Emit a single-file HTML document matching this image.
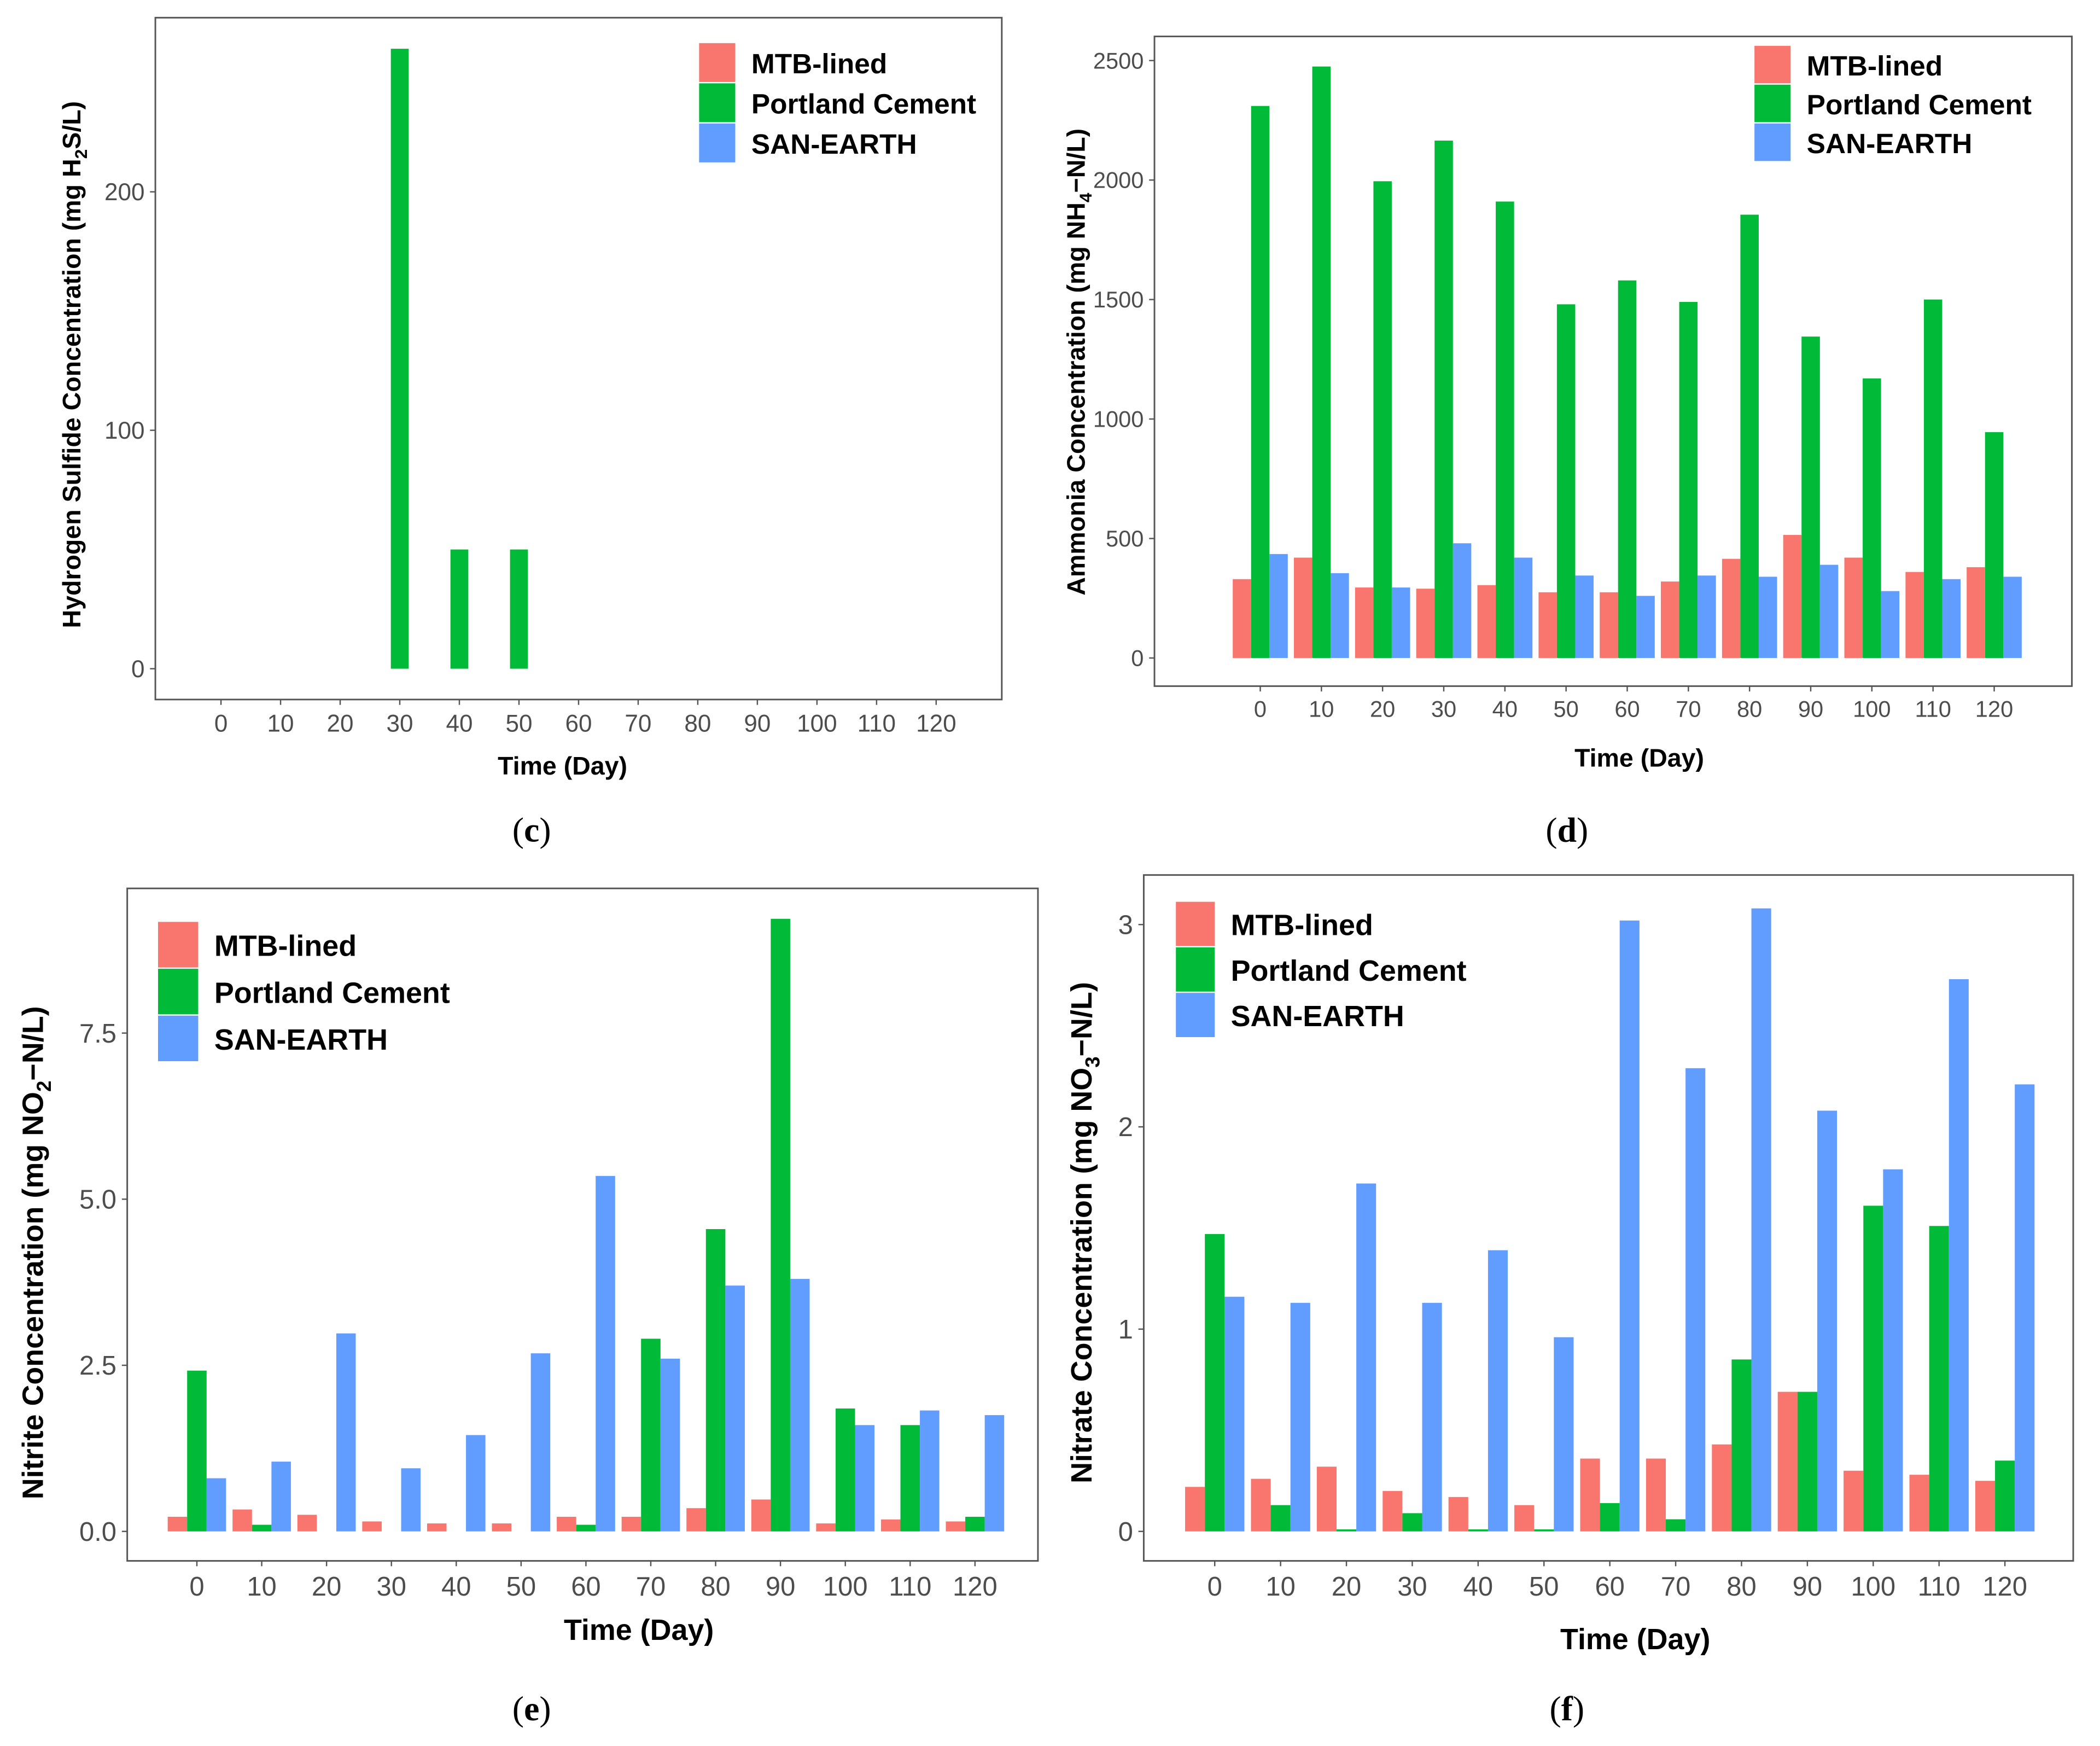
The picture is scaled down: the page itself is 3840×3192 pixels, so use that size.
<!DOCTYPE html>
<html><head><meta charset="utf-8">
<style>
html,body{margin:0;padding:0;background:#fff;overflow:hidden;}
svg{display:block;}
text{font-family:"Liberation Sans",sans-serif;}
.tick{fill:#4d4d4d;}
.ttl{font-weight:bold;fill:#000;}
.cap{font-family:"Liberation Serif",serif;fill:#000;font-size:26px;}
</style></head>
<body>
<svg id="fig" width="3840" height="3192" viewBox="0 0 1568 1303" xmlns="http://www.w3.org/2000/svg"></svg>
<script>
const days = [0,10,20,30,40,50,60,70,80,90,100,110,120];
const seriesNames = ["MTB-lined","Portland Cement","SAN-EARTH"];
const colors = ["#F8766D","#00BA38","#619CFF"];

const cMTB = [0,0,0,0,0,0,0,0,0,0,0,0,0];
const cPC  = [0,0,0,260,50,50,0,0,0,0,0,0,0];
const cSAN = [0,0,0,0,0,0,0,0,0,0,0,0,0];
const cTicks = [0,100,200];

const dMTB = [330,420,295,290,305,275,275,320,415,515,420,360,380];
const dPC  = [2310,2475,1995,2165,1910,1480,1580,1490,1855,1345,1170,1500,945];
const dSAN = [435,355,295,480,420,345,260,345,340,390,280,330,340];
const dTicks = [0,500,1000,1500,2000,2500];

const eMTB = [0.22,0.33,0.25,0.15,0.12,0.12,0.22,0.22,0.35,0.48,0.12,0.18,0.15];
const ePC  = [2.42,0.1,0,0,0,0,0.1,2.9,4.55,9.22,1.85,1.6,0.22];
const eSAN = [0.8,1.05,2.98,0.95,1.45,2.68,5.35,2.6,3.7,3.8,1.6,1.82,1.75];
const eTicks = [0,2.5,5,7.5];
const eTickLabels = ["0.0","2.5","5.0","7.5"];

const fMTB = [0.22,0.26,0.32,0.2,0.17,0.13,0.36,0.36,0.43,0.69,0.3,0.28,0.25];
const fPC  = [1.47,0.13,0.01,0.09,0.01,0.01,0.14,0.06,0.85,0.69,1.61,1.51,0.35];
const fSAN = [1.16,1.13,1.72,1.13,1.39,0.96,3.02,2.29,3.08,2.08,1.79,2.73,2.21];
const fTicks = [0,1,2,3];

const NS="http://www.w3.org/2000/svg";
const svg=document.getElementById('fig');
function mk(tag,attrs,parent){const e=document.createElementNS(NS,tag);for(const k in attrs)e.setAttribute(k,attrs[k]);(parent||svg).appendChild(e);return e;}

function panel(p){
  const g=mk('g',{});
  
  
  const fr=mk('rect',{x:p.fx0,y:p.fy0,width:p.fx1-p.fx0,height:p.fy1-p.fy0,fill:'none',stroke:'#555','stroke-width':1.2},g);
  
  
  const sy=v=>p.y0+(v-p.v0)*(p.y1-p.y0)/(p.v1-p.v0);
  const sx=i=>p.x0+i*(p.x1-p.x0)/(days.length-1);
  const step=(p.x1-p.x0)/(days.length-1);
  const bw=step*0.9/3;
  const series=[p.a,p.b,p.c];
  series.forEach((arr,si)=>{
    arr.forEach((v,i)=>{
      if(v<=0) return;
      const cx=sx(i)+(si-1)*bw;
      const r=mk('rect',{x:cx-bw/2,y:sy(v),width:bw,height:sy(0)-sy(v),fill:colors[si]},g);
      
      
    });
  });
  p.ticks.forEach((t,i)=>{
    const y=sy(t);
    mk('line',{x1:p.fx0-4,x2:p.fx0,y1:y,y2:y,stroke:'#555'},g);
    const tx=mk('text',{x:p.fx0-8,y:y+p.fs*0.35,'text-anchor':'end','font-size':p.fs,class:'tick'},g);
    tx.textContent=p.tickLabels?p.tickLabels[i]:String(t);
    
    
  });
  days.forEach((d,i)=>{
    const x=sx(i);
    mk('line',{x1:x,x2:x,y1:p.fy1,y2:p.fy1+4,stroke:'#555'},g);
    const tx=mk('text',{x:x,y:p.fy1+p.fs+6,'text-anchor':'middle','font-size':p.fs,class:'tick'},g);
    tx.textContent=String(d);
    
    
  });
  const xt=mk('text',{x:p.xtx,y:p.xty,'text-anchor':'middle','font-size':p.tfs,class:'ttl'},g);
  xt.textContent='Time (Day)';
  
  
  const yt=mk('text',{x:0,y:0,'text-anchor':'middle','font-size':p.tfs,class:'ttl',transform:`translate(${p.ytx},${p.yty}) rotate(-90)`},g);
  yt.innerHTML=p.ytitle;
  
  
  seriesNames.forEach((n,i)=>{
    const k=mk('rect',{x:p.lx,y:p.ly+i*p.lstep,width:p.lk,height:p.lstep-1,fill:colors[i]},g);
    
    
    const t=mk('text',{x:p.lx+p.lk+12,y:p.ly+i*p.lstep+p.lstep/2+p.lfs*0.36,'font-size':p.lfs,class:'ttl'},g);
    t.textContent=n;
    
    
  });
  const cp=mk('text',{x:p.capx,y:p.capy,'text-anchor':'middle',class:'cap'},g);
  cp.innerHTML='(<tspan font-weight="bold">'+p.id+'</tspan>)';
  
  
}

panel({id:'c',a:cMTB,b:cPC,c:cSAN,ticks:cTicks,fx0:116,fx1:748,fy0:13,fy1:522,
  x0:165,x1:699,y0:499,y1:143,v0:0,v1:200,fs:18,tfs:19,xtx:420,xty:578,ytx:60,yty:272,
  ytitle:'Hydrogen Sulfide Concentration (mg H<tspan font-size="13" dy="5">2</tspan><tspan dy="-5">S/L)</tspan>',
  lx:522,ly:32,lstep:30,lk:27,lfs:21,capx:397,capy:628});
panel({id:'d',a:dMTB,b:dPC,c:dSAN,ticks:dTicks,fx0:862,fx1:1547,fy0:27,fy1:512,
  x0:941,x1:1489,y0:491,y1:45,v0:0,v1:2500,fs:17,tfs:19,xtx:1224,xty:572,ytx:810,yty:270,
  ytitle:'Ammonia Concentration (mg NH<tspan font-size="13" dy="5">4</tspan><tspan dy="-5">−N/L)</tspan>',
  lx:1310,ly:34,lstep:29,lk:27,lfs:21,capx:1170,capy:628});
panel({id:'e',a:eMTB,b:ePC,c:eSAN,ticks:eTicks,tickLabels:eTickLabels,fx0:95,fx1:775,fy0:663,fy1:1165,
  x0:147,x1:728,y0:1143,y1:771,v0:0,v1:7.5,fs:20,tfs:22,xtx:477,xty:1224,ytx:32,yty:935,
  ytitle:'Nitrite Concentration (mg NO<tspan font-size="15" dy="6">2</tspan><tspan dy="-6">−N/L)</tspan>',
  lx:118,ly:688,lstep:35,lk:30,lfs:22,capx:397,capy:1284});
panel({id:'f',a:fMTB,b:fPC,c:fSAN,ticks:fTicks,fx0:854,fx1:1548,fy0:653,fy1:1165,
  x0:907,x1:1497,y0:1143,y1:690,v0:0,v1:3,fs:20,tfs:22,xtx:1221,xty:1231,ytx:815,yty:920,
  ytitle:'Nitrate Concentration (mg NO<tspan font-size="15" dy="6">3</tspan><tspan dy="-6">−N/L)</tspan>',
  lx:878,ly:673,lstep:34,lk:29,lfs:22,capx:1170,capy:1284});
</script>
</body></html>
